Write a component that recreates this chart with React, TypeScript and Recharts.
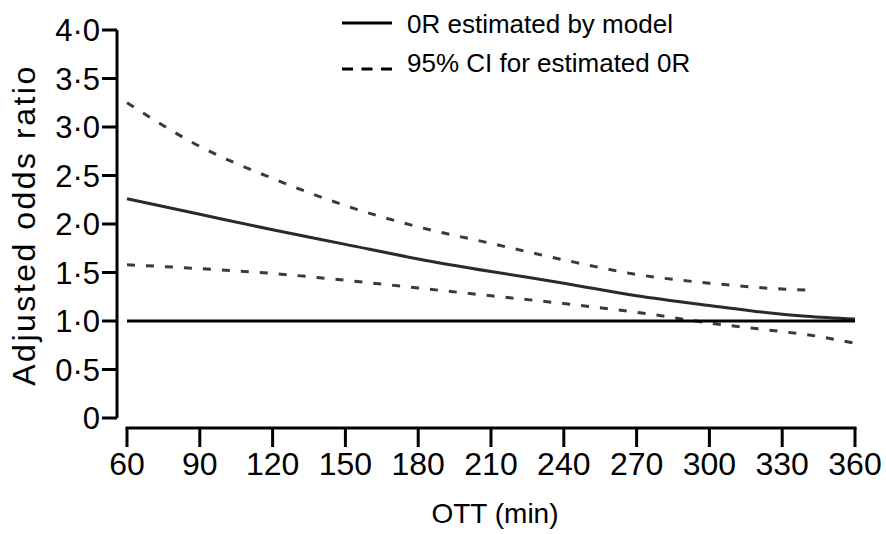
import { Legend, Line, LineChart, ReferenceLine, XAxis, YAxis } from "recharts";

// OTT (min) sample points
const ott = [60, 90, 120, 150, 180, 210, 240, 270, 300, 330, 340, 360];
const orModel = [2.26, 2.1, 1.94, 1.79, 1.64, 1.51, 1.39, 1.26, 1.16, 1.07, 1.05, 1.02];
const ciUpper = [3.25, 2.8, 2.47, 2.19, 1.97, 1.8, 1.63, 1.48, 1.39, 1.33, 1.32, null];
const ciLower = [1.58, 1.54, 1.49, 1.42, 1.34, 1.26, 1.18, 1.09, 0.98, 0.89, 0.86, 0.77];

const xTicks = [60, 90, 120, 150, 180, 210, 240, 270, 300, 330, 360];
const yTicks = [0, 0.5, 1, 1.5, 2, 2.5, 3, 3.5, 4];
const legendItems = [
  { label: "0R estimated by model", dashed: false },
  { label: "95% CI for estimated 0R", dashed: true },
];

const data = ott.map((x, i) => ({
  ott: x,
  model: orModel[i],
  upper: ciUpper[i],
  lower: ciLower[i],
}));

const FONT = '"Liberation Sans", Arial, sans-serif';
const X_BASELINE = -0.103; // x axis sits a little below y = 0

const fmtY = (v: number) => (v === 0 ? "0" : v.toFixed(1).replace(".", "\u00B7"));

function XTick({ x, y, payload }: any) {
  return (
    <g>
      <line x1={x} x2={x} y1={y + 10} y2={y + 29} stroke="#000" strokeWidth={3} />
      <text x={x} y={y + 57} textAnchor="middle" fontSize={32} fontFamily={FONT} fill="#000">
        {payload.value}
      </text>
    </g>
  );
}

function LegendBox() {
  return (
    <svg width={400} height={90}>
      {legendItems.map((item, i) => (
        <g key={item.label}>
          <line
            x1={12}
            x2={62}
            y1={23 + i * 46}
            y2={23 + i * 46}
            stroke="#000"
            strokeWidth={3}
            strokeDasharray={item.dashed ? "11 8.5" : undefined}
          />
          <text x={77} y={33 + i * 39} fontSize={26} fontFamily={FONT} fill="#000">
            {item.label}
          </text>
        </g>
      ))}
    </svg>
  );
}

export default function App() {
  return (
    <>
      <style>{"body{margin:0}"}</style>
      <LineChart width={886} height={534} data={data} margin={{ top: 30, right: 31, bottom: 0, left: 0 }}>
        <XAxis
          dataKey="ott"
          type="number"
          domain={[60, 360]}
          ticks={xTicks}
          interval={0}
          padding={{ left: 10, right: 0 }}
          axisLine={false}
          tickLine={false}
          tickSize={0}
          tickMargin={0}
          height={116}
          tick={(p: any) => <XTick {...p} />}
          label={({ viewBox }: any) => (
            <text
              x={viewBox.x + viewBox.width / 2 + 9}
              y={viewBox.y + 105}
              textAnchor="middle"
              fontSize={28}
              fontFamily={FONT}
              fill="#000"
            >
              OTT (min)
            </text>
          )}
        />
        <YAxis
          domain={[0, 4]}
          ticks={yTicks}
          interval={0}
          width={117}
          tickFormatter={fmtY}
          axisLine={{ stroke: "#000", strokeWidth: 3 }}
          tickLine={{ stroke: "#000", strokeWidth: 3 }}
          tickSize={15}
          tickMargin={2}
          tick={{ fontSize: 31, fill: "#000", fontFamily: FONT }}
          label={({ viewBox }: any) => {
            const cx = 35;
            const cy = viewBox.y + viewBox.height / 2 + 1;
            return (
              <text
                x={cx}
                y={cy}
                transform={`rotate(-90 ${cx} ${cy})`}
                textAnchor="middle"
                fontSize={32}
                letterSpacing={2.5}
                fontFamily={FONT}
                fill="#000"
              >
                Adjusted odds ratio
              </text>
            );
          }}
        />
        <Legend
          layout="vertical"
          verticalAlign="middle"
          align="center"
          wrapperStyle={{ top: 0, left: 330, width: 400, height: 90 }}
          content={() => <LegendBox />}
        />
        <ReferenceLine
          segment={[{ x: 60, y: X_BASELINE }, { x: 360, y: X_BASELINE }]}
          stroke="#000"
          strokeWidth={3}
          strokeLinecap="square"
          ifOverflow="visible"
        />
        <Line type="monotone" dataKey="upper" stroke="#3a3a3a" strokeWidth={3} strokeDasharray="8 11" dot={false} legendType="none" isAnimationActive={false} />
        <Line type="monotone" dataKey="lower" stroke="#3a3a3a" strokeWidth={3} strokeDasharray="8 11" dot={false} legendType="none" isAnimationActive={false} />
        <Line type="monotone" dataKey="model" stroke="#2a2a2a" strokeWidth={3} dot={false} legendType="none" isAnimationActive={false} />
        <ReferenceLine
          segment={[{ x: 60, y: 1 }, { x: 360, y: 1 }]}
          stroke="#000"
          strokeWidth={3}
          ifOverflow="visible"
        />
      </LineChart>
    </>
  );
}
